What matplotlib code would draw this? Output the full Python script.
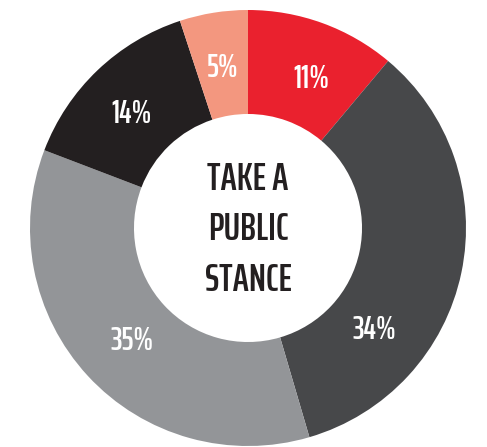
import numpy as np
import matplotlib
matplotlib.use("Agg")
import matplotlib.pyplot as plt

# slice shares, clockwise from 12 o'clock
labels = ["11%", "34%", "35%", "14%", "5%"]
shares = [11, 34, 35, 14, 5]
colors = ["#ea212e", "#47484a", "#939598", "#231f20", "#f3977f"]
center_text = "TAKE A\nPUBLIC\nSTANCE"

W, H = 487, 447
FONT = ["Saira ExtraCondensed", "Barlow Condensed", "DejaVu Sans"]

fig = plt.figure(figsize=(W / 100, H / 100), dpi=100, facecolor="white")
ax = fig.add_axes([0, 0, 1, 1])

cx, cy, R = 248, H - 228, 218
wedges, _ = ax.pie(
    shares,
    colors=colors,
    startangle=90,
    counterclock=False,
    center=(cx, cy),
    radius=R,
    wedgeprops=dict(width=R * 0.477, linewidth=0),
    frame=True,
)
ax.set_xlim(0, W)
ax.set_ylim(0, H)
ax.set_aspect("equal")
ax.axis("off")

# labels sit mid-ring; shift = degrees clockwise off the wedge middle
shift = [3, 27, -1.5, -2, 0]
r_lab = R * 0.745
for w, lab, s in zip(wedges, labels, shift):
    ang = np.deg2rad((w.theta1 + w.theta2) / 2 - s)
    ax.text(cx + r_lab * np.cos(ang), cy + r_lab * np.sin(ang), lab,
            ha="center", va="center", color="white", fontsize=23,
            fontweight="semibold", family=FONT)

ax.text(cx, cy - 2, center_text, ha="center", va="center", color="#231f20",
        fontsize=28, fontweight="semibold", family=FONT, linespacing=1.48)

fig.savefig("out.png", dpi=100, facecolor="white")
